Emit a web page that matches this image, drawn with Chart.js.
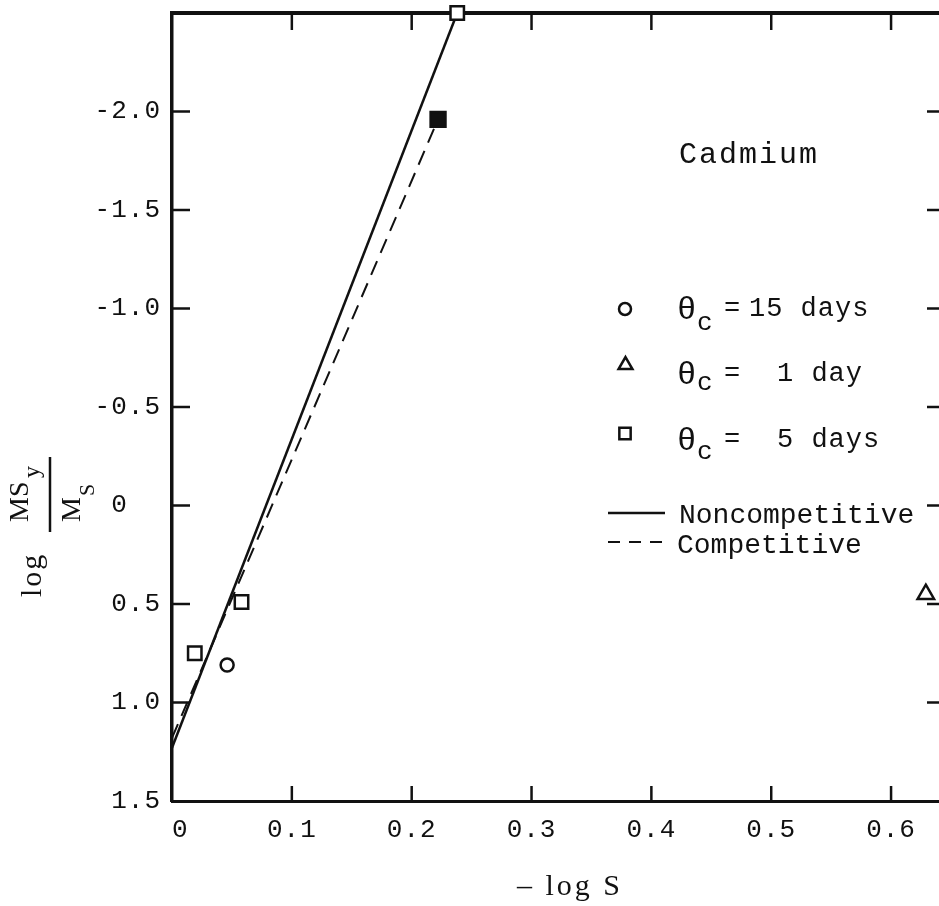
<!DOCTYPE html>
<html>
<head>
<meta charset="utf-8">
<title>Cadmium</title>
<script src="https://cdn.jsdelivr.net/npm/chart.js@4.4.1/dist/chart.umd.min.js"></script>
<style>
  html, body { margin: 0; padding: 0; background: #fff; }
  canvas { display: block; }
</style>
</head>
<body>
<canvas id="chart" width="939" height="906"></canvas>
<script>
// log(MSy/Ms) against -log S for cadmium, three sludge ages plus the two fitted lines

const noncompetitiveX = [0, 0.238];
const noncompetitiveY = [1.23, -2.5];
const competitiveX = [0, 0.222];
const competitiveY = [1.18, -1.96];

const days15X = [0.046];
const days15Y = [0.81];
const days1X = [0.629];
const days1Y = [0.45];
const days5X = [0.019, 0.058, 0.238];
const days5Y = [0.75, 0.49, -2.5];
const days5SolidX = [0.222];
const days5SolidY = [-1.96];

const xTicks = [0, 0.1, 0.2, 0.3, 0.4, 0.5, 0.6];
const xTickLabels = [' 0', '0.1', '0.2', '0.3', '0.4', '0.5', '0.6'];
const yTicks = [-2.0, -1.5, -1.0, -0.5, 0, 0.5, 1.0, 1.5];
const yTickLabels = ['-2.0', '-1.5', '-1.0', '-0.5', '0  ', '0.5', '1.0', '1.5'];

const INK = '#111';
const MONO = "'Liberation Mono', 'DejaVu Sans Mono', monospace";
const SERIF = "'Liberation Serif', 'DejaVu Serif', serif";

const toPoints = (xs, ys) => xs.map((x, i) => ({ x, y: ys[i] }));

function stroke(ctx, x1, y1, x2, y2) {
  ctx.beginPath();
  ctx.moveTo(x1, y1);
  ctx.lineTo(x2, y2);
  ctx.stroke();
}

// frame top, inward ticks, notes and axis titles
const frameAndNotes = {
  id: 'frameAndNotes',
  beforeDraw(chart) {
    chart.ctx.letterSpacing = '1px';
  },
  beforeDatasetsDraw(chart) {
    const { ctx, chartArea: a, scales: { x, y } } = chart;
    ctx.save();
    ctx.strokeStyle = INK;
    ctx.lineWidth = 4;
    stroke(ctx, a.left - 2, a.top, a.right, a.top);

    ctx.lineWidth = 2.5;
    xTicks.slice(1).forEach(v => {
      const px = x.getPixelForValue(v);
      stroke(ctx, px, a.top, px, a.top + 17);
      stroke(ctx, px, a.bottom, px, a.bottom - 15);
    });
    yTicks.slice(0, -1).forEach(v => {
      const py = y.getPixelForValue(v);
      stroke(ctx, a.left, py, a.left + 18, py);
      stroke(ctx, a.right - 12, py, a.right, py);
    });
    ctx.restore();
  },
  afterDraw(chart) {
    const ctx = chart.ctx;
    ctx.save();
    ctx.fillStyle = INK;
    ctx.strokeStyle = INK;
    ctx.textAlign = 'left';
    ctx.textBaseline = 'alphabetic';

    ctx.font = `30px ${MONO}`;
    ctx.letterSpacing = '2px';
    ctx.fillText('Cadmium', 679, 163);

    // legend: symbols
    ctx.lineWidth = 2.5;
    ctx.fillStyle = '#fff';
    Chart.helpers.drawPoint(ctx, { pointStyle: 'circle', radius: 6, borderWidth: 2.5, rotation: 0 }, 625, 309);
    Chart.helpers.drawPoint(ctx, { pointStyle: 'triangle', radius: 8, borderWidth: 2.5, rotation: 0 }, 625.5, 365);
    Chart.helpers.drawPoint(ctx, { pointStyle: 'rect', radius: 8, borderWidth: 2.5, rotation: 0 }, 625, 433.5);
    ctx.fillStyle = INK;

    const rows = [
      { base: 316, sub: 330, value: '15 days', vx: 749 },
      { base: 381, sub: 390, value: '1 day', vx: 777 },
      { base: 447, sub: 459, value: '5 days', vx: 777 }
    ];
    rows.forEach(r => {
      ctx.letterSpacing = '0px';
      ctx.font = `32px ${MONO}`;
      ctx.fillText('θ', 677, r.base + 3);
      ctx.font = `26px ${MONO}`;
      ctx.fillText('c', 697, r.sub);
      ctx.font = `27px ${MONO}`;
      ctx.fillText('=', 724, r.base);
      ctx.letterSpacing = '1px';
      ctx.fillText(r.value, r.vx, r.base);
    });

    ctx.lineWidth = 2.5;
    stroke(ctx, 608, 513, 665, 513);
    ctx.setLineDash([12, 9]);
    ctx.lineWidth = 2;
    stroke(ctx, 608, 542, 664, 542);
    ctx.setLineDash([]);
    ctx.font = `28px ${MONO}`;
    ctx.letterSpacing = '0px';
    ctx.fillText('Noncompetitive', 679, 523);
    ctx.fillText('Competitive', 677, 553);

    // x title
    ctx.font = `30px ${SERIF}`;
    ctx.letterSpacing = '3px';
    ctx.fillText('– log S', 517, 895);

    // y title, read bottom to top
    ctx.save();
    ctx.rotate(-Math.PI / 2);
    ctx.letterSpacing = '2px';
    ctx.font = `30px ${SERIF}`;
    ctx.fillText('log', -597, 41);
    ctx.letterSpacing = '0px';
    ctx.font = `28px ${SERIF}`;
    ctx.fillText('MS', -522, 28);
    ctx.fillText('M', -522, 80);
    ctx.font = `24px ${SERIF}`;
    ctx.fillText('y', -478, 39);
    ctx.font = `22px ${SERIF}`;
    ctx.fillText('S', -496, 94);
    ctx.restore();
    ctx.lineWidth = 2.5;
    stroke(ctx, 50, 457, 50, 532);

    ctx.restore();
  }
};

const marker = (label, xs, ys, style, radius, fill) => ({
  label,
  data: toPoints(xs, ys),
  showLine: false,
  pointStyle: style,
  pointRadius: radius,
  pointBorderWidth: 2.5,
  pointBorderColor: INK,
  pointBackgroundColor: fill,
  clip: false,
  order: 1
});

new Chart(document.getElementById('chart'), {
  type: 'scatter',
  data: {
    datasets: [
      {
        label: 'Noncompetitive',
        data: toPoints(noncompetitiveX, noncompetitiveY),
        showLine: true,
        borderColor: INK,
        borderWidth: 2.5,
        pointRadius: 0,
        clip: false,
        order: 2
      },
      {
        label: 'Competitive',
        data: toPoints(competitiveX, competitiveY),
        showLine: true,
        borderColor: INK,
        borderWidth: 2,
        borderDash: [15, 9],
        pointRadius: 0,
        clip: false,
        order: 2
      },
      marker('θc = 15 days', days15X, days15Y, 'circle', 6.5, '#fff'),
      marker('θc = 1 day', days1X, days1Y, 'triangle', 9.5, '#fff'),
      marker('θc = 5 days', days5X, days5Y, 'rect', 9.5, '#fff'),
      marker('θc = 5 days', days5SolidX, days5SolidY, 'rect', 10.5, INK)
    ]
  },
  options: {
    responsive: false,
    animation: false,
    events: [],
    layout: { autoPadding: false, padding: { top: 13, right: 0, bottom: 0, left: 0 } },
    plugins: {
      legend: { display: false },
      tooltip: { enabled: false }
    },
    scales: {
      x: {
        type: 'linear',
        min: 0,
        max: 0.64,
        grid: { display: false, drawTicks: false },
        border: { display: true, color: INK, width: 3 },
        afterBuildTicks: scale => { scale.ticks = xTicks.map(value => ({ value })); },
        afterFit: scale => {
          scale.height = 105;
          scale.paddingLeft = 0;
          scale.paddingRight = 0;
        },
        ticks: {
          color: INK,
          padding: 14,
          maxRotation: 0,
          font: { family: MONO, size: 26 },
          callback: value => xTickLabels[xTicks.indexOf(value)]
        }
      },
      y: {
        type: 'linear',
        reverse: true,
        min: -2.5,
        max: 1.5,
        grid: { display: false, drawTicks: false },
        border: { display: true, color: INK, width: 3.5 },
        afterBuildTicks: scale => { scale.ticks = yTicks.map(value => ({ value })); },
        afterFit: scale => {
          scale.width = 172;
          scale.paddingTop = 0;
          scale.paddingBottom = 0;
        },
        ticks: {
          color: INK,
          padding: 11,
          font: { family: MONO, size: 26 },
          callback: value => yTickLabels[yTicks.indexOf(value)]
        }
      }
    }
  },
  plugins: [frameAndNotes]
});
</script>
</body>
</html>
